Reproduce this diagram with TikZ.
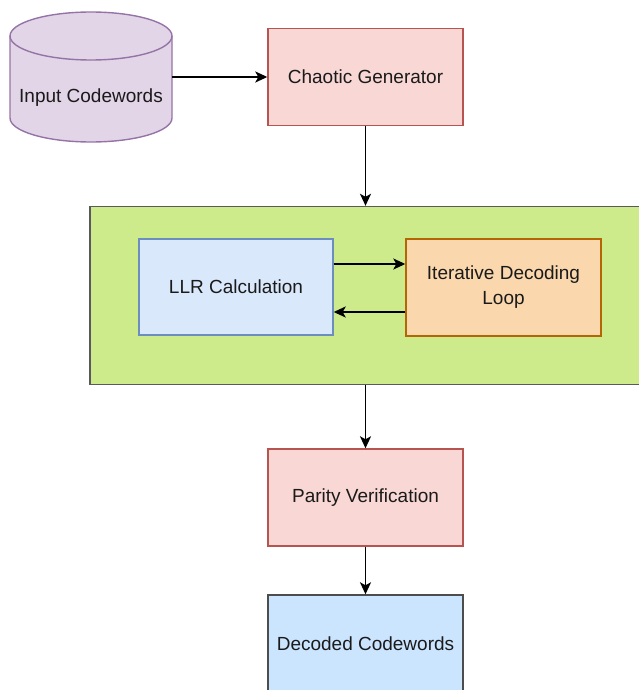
\documentclass[tikz,border=0pt]{standalone}
\usepackage{fontspec}
\setmainfont{Liberation Sans}
\usetikzlibrary{arrows.meta,calc}

\definecolor{cylfill}{HTML}{E1D5E7}
\definecolor{cylline}{HTML}{9673A6}
\definecolor{redfill}{HTML}{F8D7D4}
\definecolor{redline}{HTML}{B85450}
\definecolor{grnfill}{HTML}{CDEB8B}
\definecolor{grnline}{HTML}{5A5A5A}
\definecolor{llrfill}{HTML}{DAE8FC}
\definecolor{llrline}{HTML}{6C8EBF}
\definecolor{orgfill}{HTML}{FAD7AC}
\definecolor{orgline}{HTML}{B46504}
\definecolor{outfill}{HTML}{CCE5FF}
\definecolor{outline}{HTML}{4D4D4D}
\definecolor{txt}{HTML}{1A1A1A}

\begin{document}
\begin{tikzpicture}
  [
    x=1pt, y=-1pt,
    font=\fontsize{19}{25}\selectfont, text=txt,
    block/.style =
      {draw, rectangle, align=center, line width=1.4pt, minimum width=195pt, minimum height=97pt},
    sarrow/.style =
      {line width=1.8pt, >={Stealth[length=12pt, width=11pt, inset=3pt]}}
  ]

\useasboundingbox (0,0) rectangle (638,690);

\filldraw[fill=cylfill, draw=cylline, line width=1.4pt]
  (10,36) -- (10,118) arc[start angle=180, end angle=0, x radius=81, y radius=24]
  -- (172,36) arc[start angle=0, end angle=-180, x radius=81, y radius=24];
\draw[cylline, line width=1.4pt] (10,36) arc[start angle=180, end angle=0, x radius=81, y radius=24];
\node[minimum width=162pt, minimum height=130pt] (inp) at (91,77) {};
\node (inptext) at (91,98) {Input Codewords};

\node[block, fill=redfill, draw=redline] (gen) at (365.5,77) {Chaotic Generator};

\node[block, fill=grnfill, draw=grnline, minimum width=570pt, minimum height=178pt] (loop) at (375,295.5) {};

\node[block, fill=llrfill, draw=llrline, minimum width=194pt, minimum height=96pt] (llr) at (236,287) {LLR Calculation};
\node[block, fill=orgfill, draw=orgline] (iter) at (503.5,287.5) {Iterative Decoding\\Loop};

\node[block, fill=redfill, draw=redline] (par) at (365.5,497.5) {Parity Verification};
\node[block, fill=outfill, draw=outline] (dec) at (365.5,643.5) {Decoded Codewords};

\draw [->, sarrow] (inp.east) -- (gen.west);
\draw [->, sarrow] (gen.south) -- (gen.south |- loop.north);
\draw [->, sarrow] ($(llr.east)+(0,-23)$) -- ($(iter.west)+(0,-23.5)$);
\draw [->, sarrow] ($(iter.west)+(0,24.5)$) -- ($(llr.east)+(0,25)$);
\draw [->, sarrow] (par.north |- loop.south) -- (par.north);
\draw [->, sarrow] (par.south) -- (dec.north);

\end{tikzpicture}
\end{document}
